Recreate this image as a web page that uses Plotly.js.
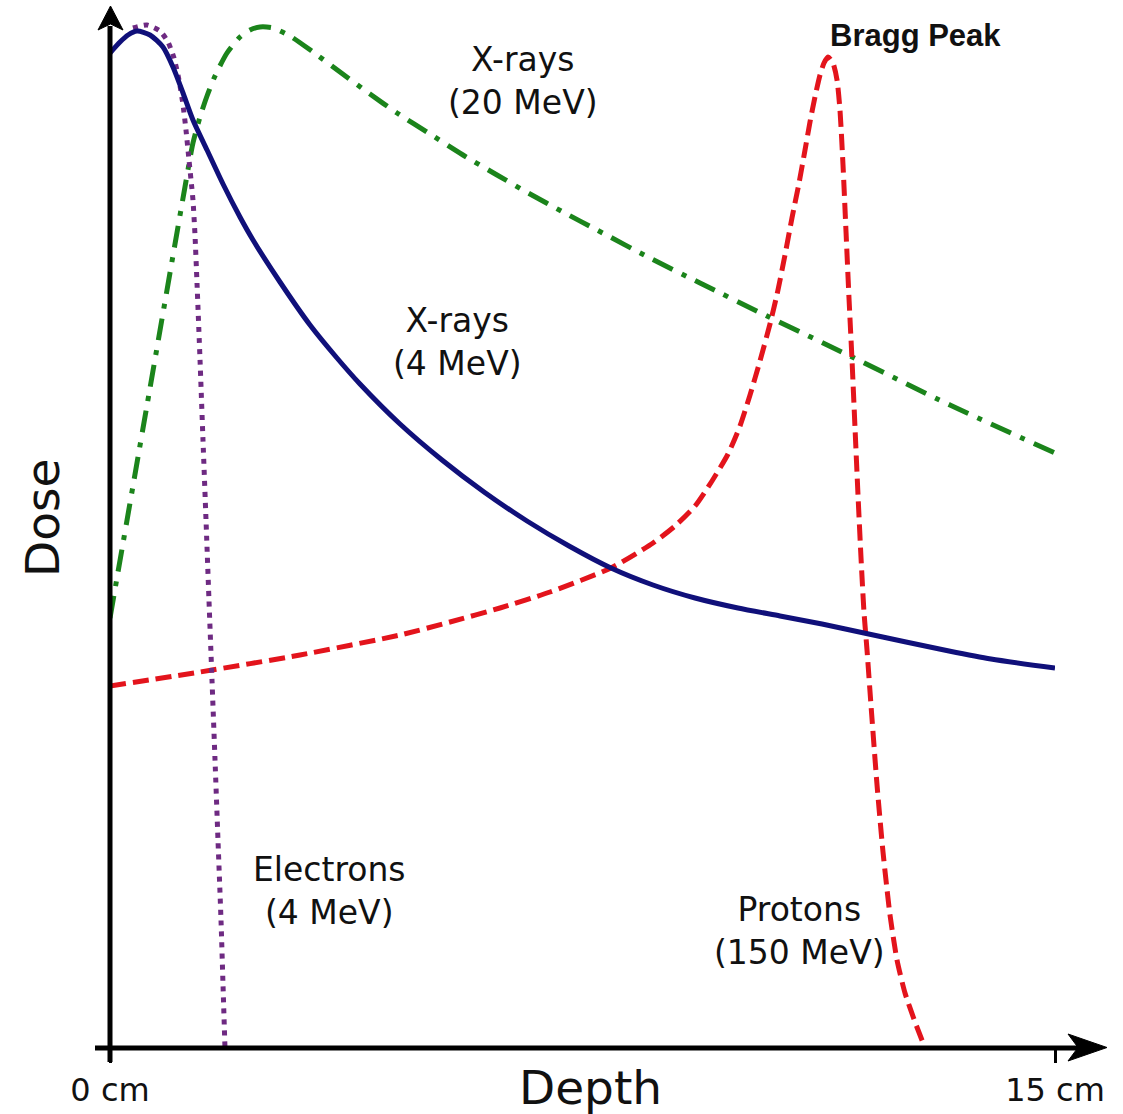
<!DOCTYPE html>
<html>
<head>
<meta charset="utf-8">
<script src="https://cdn.plot.ly/plotly-3.0.1.min.js"></script>
<style>html,body{margin:0;padding:0;background:#fff;}#chart{width:1123px;height:1114px;}</style>
</head>
<body>
<div id="chart"></div>
<script>
// Depth in cm, dose in arbitrary units
const xrays20Depth = [0, 0.635, 1.190, 1.317, 1.429, 1.540, 1.667, 1.857, 2.063, 2.222, 2.381, 2.587, 2.857, 3.222, 3.651, 4.127, 4.556, 5.079, 5.603, 6.143, 6.667, 7.190, 7.730, 8.571, 9.365, 10.429, 11.746, 13.333, 15.0];
const xrays20Dose  = [43.0, 66.0, 86.1, 90.5, 93.1, 95.2, 97.2, 99.5, 101.1, 101.8, 102.1, 102.0, 101.2, 99.6, 97.6, 95.4, 93.5, 91.4, 89.3, 87.3, 85.4, 83.6, 81.8, 79.0, 76.5, 73.2, 69.2, 64.3, 59.5];

const xrays4Depth = [0, 0.159, 0.286, 0.429, 0.635, 0.841, 1.0, 1.159, 1.317, 1.540, 1.794, 2.063, 2.270, 2.698, 3.175, 3.603, 3.968, 4.603, 5.270, 5.937, 6.619, 7.286, 7.952, 8.619, 9.286, 9.968, 10.635, 11.302, 11.968, 12.635, 13.317, 13.984, 15.0];
const xrays4Dose  = [99.5, 100.6, 101.3, 101.7, 101.3, 100.1, 98.1, 95.5, 92.8, 89.8, 86.4, 83.1, 80.8, 76.6, 72.3, 69.0, 66.4, 62.4, 58.8, 55.6, 52.7, 50.2, 48.0, 46.3, 45.0, 44.0, 43.2, 42.4, 41.5, 40.6, 39.7, 38.9, 38.0];

const electronsDepth = [0.365, 0.587, 0.794, 0.921, 1.016, 1.095, 1.159, 1.206, 1.254, 1.286, 1.317, 1.349, 1.381, 1.429, 1.476, 1.524, 1.571, 1.619, 1.667, 1.714, 1.762, 1.794, 1.825];
const electronsDose  = [102.0, 102.3, 101.7, 100.6, 99.0, 96.8, 94.3, 91.8, 88.8, 86.8, 84.8, 81.3, 76.5, 68.8, 60.8, 52.8, 44.8, 36.8, 28.8, 20.8, 12.8, 6.3, 0];

const protonsDepth = [0, 1.429, 3.016, 4.603, 5.397, 6.190, 6.984, 7.952, 8.619, 8.968, 9.286, 9.556, 9.810, 10.0, 10.159, 10.317, 10.476, 10.603, 10.714, 10.825, 10.937, 11.032, 11.111, 11.190, 11.270, 11.333, 11.397, 11.476, 11.540, 11.587, 11.635, 11.683, 11.730, 11.778, 11.825, 11.873, 11.921, 11.968, 12.016, 12.079, 12.175, 12.270, 12.381, 12.492, 12.619, 12.778, 12.937];
const protonsDose  = [36.2, 37.6, 39.3, 41.3, 42.6, 44.0, 45.6, 48.0, 50.5, 52.2, 54.2, 56.7, 59.4, 62.2, 65.3, 68.7, 72.4, 75.8, 79.3, 83.0, 86.5, 89.8, 92.6, 95.1, 97.3, 98.5, 99.1, 98.5, 96.8, 93.8, 88.3, 81.6, 75.0, 68.8, 62.1, 55.3, 49.0, 43.6, 39.8, 34.3, 26.3, 19.6, 13.3, 8.8, 5.5, 2.6, 0];

const tickVals = [0, 15];
const tickText = ["0 cm", "15 cm"];

const labelFont = {family: "DejaVu Sans", size: 33, color: "#111"};

const traces = [
  {x: xrays20Depth, y: xrays20Dose, mode: "lines", line: {color: "#1b841b", width: 5, dash: "22px,10px,5px,10px", shape: "spline", smoothing: 0.7}},
  {x: protonsDepth, y: protonsDose, mode: "lines", line: {color: "#e3141c", width: 5, dash: "16px,7px", shape: "spline", smoothing: 0.6}},
  {x: electronsDepth, y: electronsDose, mode: "lines", line: {color: "#6e2a82", width: 5, dash: "5px,6px", shape: "spline", smoothing: 0.6}},
  {x: xrays4Depth, y: xrays4Dose, mode: "lines", line: {color: "#10107a", width: 5, shape: "spline", smoothing: 0.7}}
];
traces.forEach(t => { t.cliponaxis = false; t.hoverinfo = "skip"; });

// helpers for paper coords (plot area: px 110..1055 horizontally, 10..1048 vertically)
const px = X => (X - 110) / 945;
const py = Y => (1048 - Y) / 1038;

function label(x, y, text, font, extra) {
  return Object.assign({x: x, y: y, xref: "x", yref: "y", text: text, showarrow: false,
    font: font, align: "center", xanchor: "center", yanchor: "middle"}, extra || {});
}

const layout = {
  width: 1123, height: 1114,
  margin: {l: 110, r: 68, t: 10, b: 66, pad: 0},
  paper_bgcolor: "#fff", plot_bgcolor: "#fff",
  showlegend: false,
  xaxis: {range: [0, 15], showgrid: false, zeroline: false, showline: false,
          tickmode: "array", tickvals: tickVals, ticktext: tickText,
          ticks: "outside", ticklen: 14, tickwidth: 3, tickcolor: "#000",
          tickfont: {family: "DejaVu Sans", size: 32, color: "#111"}, fixedrange: true},
  yaxis: {range: [0, 103.8], visible: false, fixedrange: true},
  shapes: [
    {type: "line", xref: "paper", yref: "paper", x0: 0, x1: 0, y0: py(1062), y1: py(26), line: {color: "#000", width: 5}},
    {type: "line", xref: "paper", yref: "paper", x0: px(95), x1: px(1080), y0: 0, y1: 0, line: {color: "#000", width: 5}},
    {type: "path", xref: "paper", yref: "paper",
     path: `M ${px(110.5)} ${py(6)} L ${px(123)} ${py(30)} L ${px(110.5)} ${py(24)} L ${px(98)} ${py(30)} Z`,
     fillcolor: "#000", line: {color: "#000", width: 1}},
    {type: "path", xref: "paper", yref: "paper",
     path: `M ${px(1107)} ${py(1047.5)} L ${px(1068)} ${py(1034)} L ${px(1078)} ${py(1047.5)} L ${px(1068)} ${py(1061)} Z`,
     fillcolor: "#000", line: {color: "#000", width: 1}}
  ],
  annotations: [
    label(6.56, 96.7, "X-rays<br>(20 MeV)", labelFont),
    label(5.51, 70.6, "X-rays<br>(4 MeV)", labelFont),
    label(3.49, 15.7, "Electrons<br>(4 MeV)", labelFont),
    label(10.94, 11.7, "Protons<br>(150 MeV)", labelFont),
    label(12.78, 101.3, "<b>Bragg Peak</b>", {family: "Liberation Sans", size: 31, color: "#111"}),
    label(px(42), py(518), "Dose", {family: "DejaVu Sans", size: 47, color: "#111"}, {xref: "paper", yref: "paper", textangle: -90}),
    label(px(590), py(1087), "Depth", {family: "DejaVu Sans", size: 47, color: "#111"}, {xref: "paper", yref: "paper"})
  ]
};

Plotly.newPlot("chart", traces, layout, {staticPlot: true, displayModeBar: false});
</script>
</body>
</html>
